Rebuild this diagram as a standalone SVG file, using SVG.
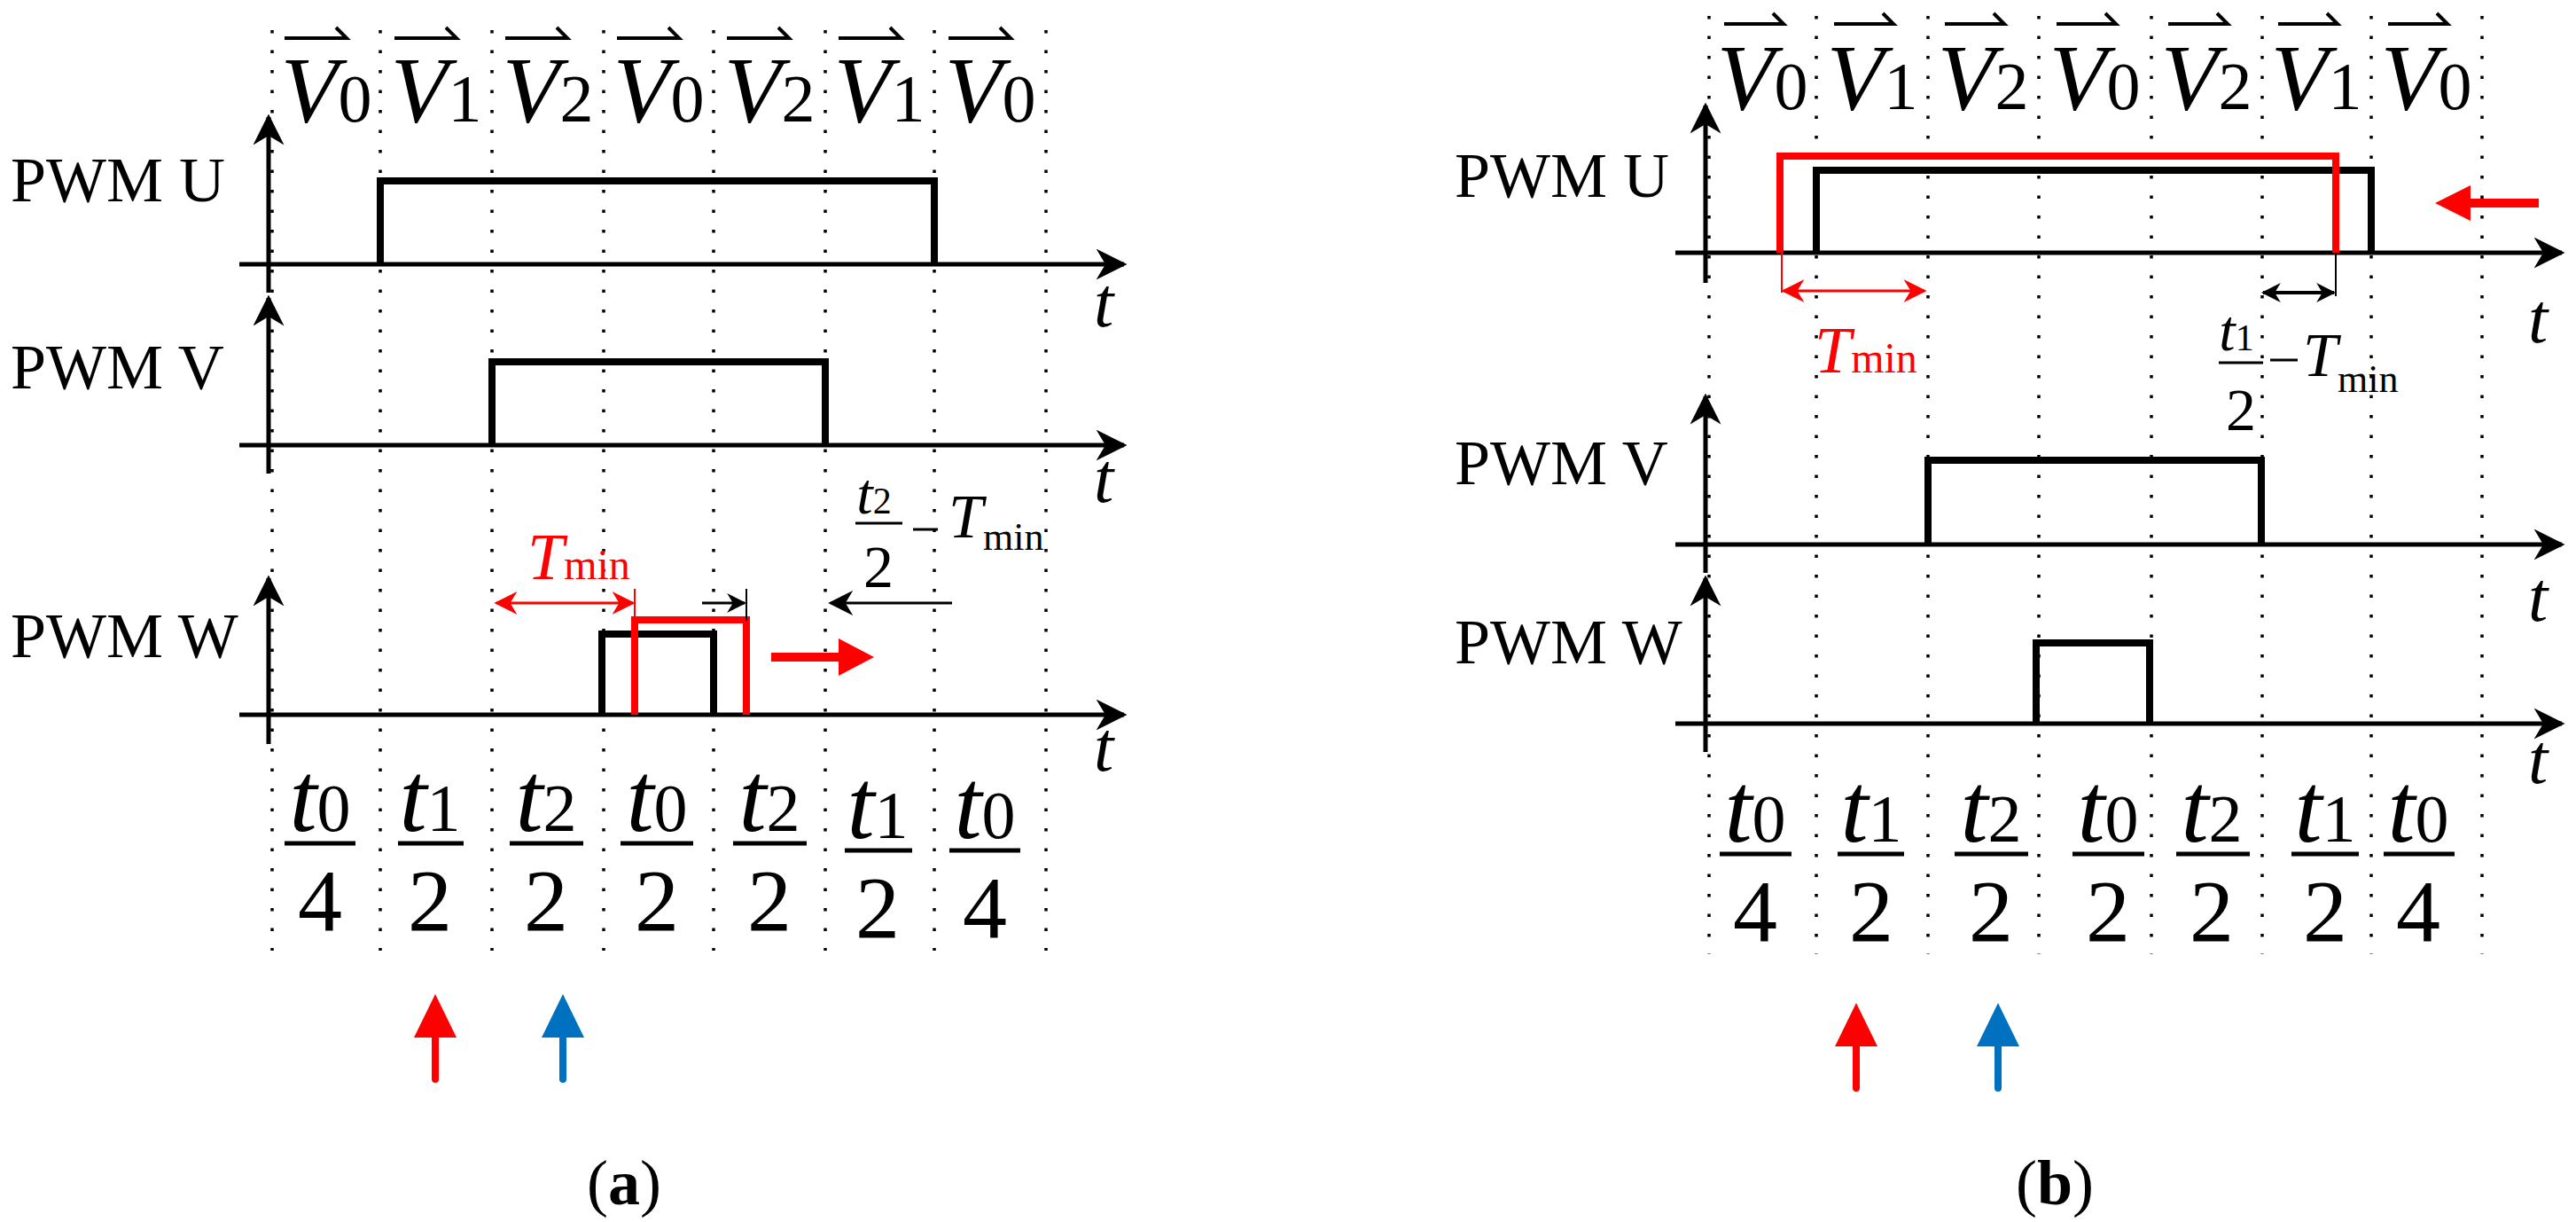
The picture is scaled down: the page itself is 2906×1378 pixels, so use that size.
<svg xmlns="http://www.w3.org/2000/svg" width="2906" height="1378" viewBox="0 0 2906 1378">
<style>
.f{font-family:"Liberation Serif","Times New Roman",serif;fill:#000}
.lbl{font-size:72px}
.vv{font-size:106px;font-style:italic}
.sub{font-style:normal}
.dot{stroke:#000;stroke-width:3.5;stroke-dasharray:3.5 19;fill:none}
.ax{stroke:#000;stroke-width:5;fill:none}
.pk{stroke:#000;stroke-width:8;fill:none;stroke-linejoin:miter}
.pr{stroke:#f00;stroke-width:8;fill:none}
.num{font-size:112px;font-style:italic}
.den{font-size:100px}
</style>
<defs>
<marker id="ah" viewBox="0 0 10 10" refX="9" refY="5" markerWidth="7" markerHeight="7" markerUnits="strokeWidth" orient="auto-start-reverse"><path d="M0,0 L10,5 L0,10 L3,5 z" fill="#000"/></marker>
<marker id="sk" viewBox="0 0 10 10" refX="9" refY="5" markerWidth="22" markerHeight="22" markerUnits="userSpaceOnUse" orient="auto-start-reverse"><path d="M0,0 L10,5 L0,10 L3,5 z" fill="#000"/></marker>
<marker id="sr" viewBox="0 0 10 10" refX="9" refY="5" markerWidth="26" markerHeight="26" markerUnits="userSpaceOnUse" orient="auto-start-reverse"><path d="M0,0 L10,5 L0,10 L3,5 z" fill="#f00"/></marker>
<marker id="sb" viewBox="0 0 10 10" refX="9" refY="5" markerWidth="28" markerHeight="28" markerUnits="userSpaceOnUse" orient="auto-start-reverse"><path d="M0,0 L10,5 L0,10 L3,5 z" fill="#000"/></marker>
</defs>

<!-- ===== Panel (a) ===== -->
<g id="a-grid">
<path class="dot" d="M307,34V1072M429,34V1072M555,34V1072M681,34V1072M805,34V1072M931,34V1072M1054,34V1072M1180,34V1072"/>
</g>
<g id="a-vectors" class="f">
<path d="M321,43H391l-12,-12M445,43H515l-12,-12M570,43H640l-12,-12M696,43H766l-12,-12M820,43H890l-12,-12M946,43H1016l-12,-12M1070,43H1140l-12,-12" stroke="#000" stroke-width="4" fill="none"/>
<text class="vv" x="368" y="137" text-anchor="middle">V<tspan class="sub" font-size="76">0</tspan></text>
<text class="vv" x="492" y="137" text-anchor="middle">V<tspan class="sub" font-size="76">1</tspan></text>
<text class="vv" x="618" y="137" text-anchor="middle">V<tspan class="sub" font-size="76">2</tspan></text>
<text class="vv" x="743" y="137" text-anchor="middle">V<tspan class="sub" font-size="76">0</tspan></text>
<text class="vv" x="868" y="137" text-anchor="middle">V<tspan class="sub" font-size="76">2</tspan></text>
<text class="vv" x="992" y="137" text-anchor="middle">V<tspan class="sub" font-size="76">1</tspan></text>
<text class="vv" x="1117" y="137" text-anchor="middle">V<tspan class="sub" font-size="76">0</tspan></text>
</g>
<g id="a-pwmU">
<text class="f lbl" x="12" y="227">PWM U</text>
<line class="ax" x1="303" y1="330" x2="303" y2="132" marker-end="url(#ah)"/>
<line class="ax" x1="270" y1="298" x2="1268" y2="298" marker-end="url(#ah)"/>
<polyline class="pk" points="429,298 429,204 1054,204 1054,298"/>
<text class="f" x="1234" y="368" font-size="80" font-style="italic">t</text>
</g>
<g id="a-pwmV">
<text class="f lbl" x="12" y="438">PWM V</text>
<line class="ax" x1="303" y1="534" x2="303" y2="336" marker-end="url(#ah)"/>
<line class="ax" x1="270" y1="502" x2="1268" y2="502" marker-end="url(#ah)"/>
<polyline class="pk" points="555,502 555,408 931,408 931,502"/>
<text class="f" x="1234" y="566" font-size="80" font-style="italic">t</text>
</g>
<g id="a-pwmW">
<text class="f lbl" x="12" y="741">PWM W</text>
<line class="ax" x1="303" y1="839" x2="303" y2="652" marker-end="url(#ah)"/>
<line class="ax" x1="270" y1="806" x2="1268" y2="806" marker-end="url(#ah)"/>
<polyline class="pk" points="679,806 679,715 805,715 805,806"/>
<polyline class="pr" points="716,806 716,699 842,699 842,806"/>
<text class="f" x="1234" y="869" font-size="80" font-style="italic">t</text>
</g>
<g id="a-annot">
<line x1="716" y1="699" x2="716" y2="664" stroke="#f00" stroke-width="2"/>
<line x1="560" y1="680" x2="714" y2="680" stroke="#f00" stroke-width="3" marker-start="url(#sr)" marker-end="url(#sr)"/>
<text class="f" x="595" y="653" font-size="74" font-style="italic" style="fill:#f00">T<tspan font-style="normal" font-size="48">min</tspan></text>
<line x1="842" y1="664" x2="842" y2="700" stroke="#000" stroke-width="2"/>
<line x1="792" y1="680" x2="840" y2="680" stroke="#000" stroke-width="3" marker-end="url(#sk)"/>
<line x1="1074" y1="680" x2="937" y2="680" stroke="#000" stroke-width="3" marker-end="url(#sb)"/>
<text class="f" x="986" y="579" font-size="66" font-style="italic" text-anchor="middle">t<tspan class="sub" font-size="42">2</tspan></text>
<line x1="965" y1="590" x2="1018" y2="590" stroke="#000" stroke-width="3"/>
<text class="f" x="991" y="662" font-size="68" text-anchor="middle">2</text>
<line x1="1030" y1="597" x2="1058" y2="597" stroke="#000" stroke-width="3"/>
<text class="f" x="1070" y="606" font-size="70" font-style="italic">T<tspan class="sub" font-size="44" dy="14">min</tspan></text>
<path d="M870,741H950" stroke="#f00" stroke-width="10"/>
<path d="M946,720L986,741L946,762z" fill="#f00"/>
</g>
<g id="a-fractions" class="f">
<g text-anchor="middle">
<text class="num" x="361" y="937">t<tspan class="sub" font-size="76">0</tspan></text>
<text class="num" x="485" y="937">t<tspan class="sub" font-size="76">1</tspan></text>
<text class="num" x="616" y="937">t<tspan class="sub" font-size="76">2</tspan></text>
<text class="num" x="741" y="937">t<tspan class="sub" font-size="76">0</tspan></text>
<text class="num" x="868" y="937">t<tspan class="sub" font-size="76">2</tspan></text>
<text class="num" x="990" y="945">t<tspan class="sub" font-size="76">1</tspan></text>
<text class="num" x="1111" y="945">t<tspan class="sub" font-size="76">0</tspan></text>
<text class="den" x="361" y="1049">4</text>
<text class="den" x="485" y="1049">2</text>
<text class="den" x="616" y="1049">2</text>
<text class="den" x="741" y="1049">2</text>
<text class="den" x="868" y="1049">2</text>
<text class="den" x="990" y="1057">2</text>
<text class="den" x="1111" y="1057">4</text>
</g>
<path d="M321,951H401M449,951H523M575,951H658M700,951H782M827,951H910M953,959H1029M1071,959H1151" stroke="#000" stroke-width="5"/>
</g>
<g id="a-markers">
<path d="M491,1217V1160" stroke="#f00" stroke-width="8" stroke-linecap="round"/>
<path d="M467,1170L491,1121L515,1170z" fill="#f00"/>
<path d="M635,1217V1160" stroke="#0070c0" stroke-width="8" stroke-linecap="round"/>
<path d="M611,1170L635,1121L659,1170z" fill="#0070c0"/>
<text class="f" x="704" y="1358" font-size="72" text-anchor="middle">(<tspan font-weight="bold">a</tspan>)</text>
</g>

<!-- ===== Panel (b) ===== -->
<g id="b-grid">
<path class="dot" d="M1928,18V1076M2049,18V1076M2175,18V1076M2300,18V1076M2427,18V1076M2552,18V1076M2675,18V1076M2800,18V1076"/>
</g>
<g id="b-vectors" class="f">
<path d="M1945,27H2012l-12,-12M2069,27H2136l-12,-12M2194,27H2261l-12,-12M2320,27H2387l-12,-12M2446,27H2513l-12,-12M2570,27H2637l-12,-12M2694,27H2761l-12,-12" stroke="#000" stroke-width="4" fill="none"/>
<text class="vv" x="1988" y="123" text-anchor="middle">V<tspan class="sub" font-size="76">0</tspan></text>
<text class="vv" x="2112" y="123" text-anchor="middle">V<tspan class="sub" font-size="76">1</tspan></text>
<text class="vv" x="2237" y="123" text-anchor="middle">V<tspan class="sub" font-size="76">2</tspan></text>
<text class="vv" x="2363" y="123" text-anchor="middle">V<tspan class="sub" font-size="76">0</tspan></text>
<text class="vv" x="2489" y="123" text-anchor="middle">V<tspan class="sub" font-size="76">2</tspan></text>
<text class="vv" x="2613" y="123" text-anchor="middle">V<tspan class="sub" font-size="76">1</tspan></text>
<text class="vv" x="2737" y="123" text-anchor="middle">V<tspan class="sub" font-size="76">0</tspan></text>
</g>
<g id="b-pwmU">
<text class="f lbl" x="1641" y="222">PWM U</text>
<line class="ax" x1="1924" y1="319" x2="1924" y2="119" marker-end="url(#ah)"/>
<line class="ax" x1="1890" y1="285" x2="2890" y2="285" marker-end="url(#ah)"/>
<polyline class="pk" points="2049,285 2049,192 2675,192 2675,285"/>
<polyline class="pr" points="2008,285 2008,176 2635,176 2635,285"/>
<text class="f" x="2852" y="386" font-size="80" font-style="italic">t</text>
</g>
<g id="b-pwmV">
<text class="f lbl" x="1641" y="546">PWM V</text>
<line class="ax" x1="1924" y1="646" x2="1924" y2="447" marker-end="url(#ah)"/>
<line class="ax" x1="1890" y1="614" x2="2890" y2="614" marker-end="url(#ah)"/>
<polyline class="pk" points="2175,614 2175,519 2551,519 2551,614"/>
<text class="f" x="2852" y="700" font-size="80" font-style="italic">t</text>
</g>
<g id="b-pwmW">
<text class="f lbl" x="1641" y="748">PWM W</text>
<line class="ax" x1="1924" y1="848" x2="1924" y2="652" marker-end="url(#ah)"/>
<line class="ax" x1="1890" y1="816" x2="2890" y2="816" marker-end="url(#ah)"/>
<polyline class="pk" points="2297,816 2297,725 2425,725 2425,816"/>
<text class="f" x="2852" y="883" font-size="80" font-style="italic">t</text>
</g>
<g id="b-annot">
<line x1="2010" y1="285" x2="2010" y2="330" stroke="#f00" stroke-width="2"/>
<line x1="2012" y1="328" x2="2171" y2="328" stroke="#f00" stroke-width="3" marker-start="url(#sr)" marker-end="url(#sr)"/>
<text class="f" x="2047" y="420" font-size="74" font-style="italic" style="fill:#f00">T<tspan font-style="normal" font-size="48">min</tspan></text>
<line x1="2635" y1="287" x2="2635" y2="334" stroke="#000" stroke-width="2"/>
<line x1="2553" y1="330" x2="2633" y2="330" stroke="#000" stroke-width="4" marker-start="url(#sk)" marker-end="url(#sk)"/>
<text class="f" x="2523" y="395" font-size="66" font-style="italic" text-anchor="middle">t<tspan class="sub" font-size="42">1</tspan></text>
<line x1="2503" y1="409" x2="2553" y2="409" stroke="#000" stroke-width="3"/>
<text class="f" x="2528" y="485" font-size="68" text-anchor="middle">2</text>
<line x1="2561" y1="406" x2="2592" y2="406" stroke="#000" stroke-width="3"/>
<text class="f" x="2598" y="424" font-size="70" font-style="italic">T<tspan class="sub" font-size="44" dy="18">min</tspan></text>
<path d="M2864,229H2780" stroke="#f00" stroke-width="10"/>
<path d="M2787,209L2747,229L2787,249z" fill="#f00"/>
</g>
<g id="b-fractions" class="f">
<g text-anchor="middle">
<text class="num" x="1980" y="949">t<tspan class="sub" font-size="76">0</tspan></text>
<text class="num" x="2111" y="949">t<tspan class="sub" font-size="76">1</tspan></text>
<text class="num" x="2246" y="949">t<tspan class="sub" font-size="76">2</tspan></text>
<text class="num" x="2378" y="949">t<tspan class="sub" font-size="76">0</tspan></text>
<text class="num" x="2495" y="949">t<tspan class="sub" font-size="76">2</tspan></text>
<text class="num" x="2623" y="949">t<tspan class="sub" font-size="76">1</tspan></text>
<text class="num" x="2728" y="949">t<tspan class="sub" font-size="76">0</tspan></text>
<text class="den" x="1980" y="1061">4</text>
<text class="den" x="2111" y="1061">2</text>
<text class="den" x="2246" y="1061">2</text>
<text class="den" x="2378" y="1061">2</text>
<text class="den" x="2495" y="1061">2</text>
<text class="den" x="2623" y="1061">2</text>
<text class="den" x="2728" y="1061">4</text>
</g>
<path d="M1940,963H2021M2073,963H2148M2205,963H2288M2338,963H2419M2455,963H2538M2585,963H2661M2689,963H2769" stroke="#000" stroke-width="5"/>
</g>
<g id="b-markers">
<path d="M2094,1227V1170" stroke="#f00" stroke-width="8" stroke-linecap="round"/>
<path d="M2070,1180L2094,1131L2118,1180z" fill="#f00"/>
<path d="M2254,1227V1170" stroke="#0070c0" stroke-width="8" stroke-linecap="round"/>
<path d="M2230,1180L2254,1131L2278,1180z" fill="#0070c0"/>
<text class="f" x="2318" y="1358" font-size="72" text-anchor="middle">(<tspan font-weight="bold">b</tspan>)</text>
</g>
</svg>
